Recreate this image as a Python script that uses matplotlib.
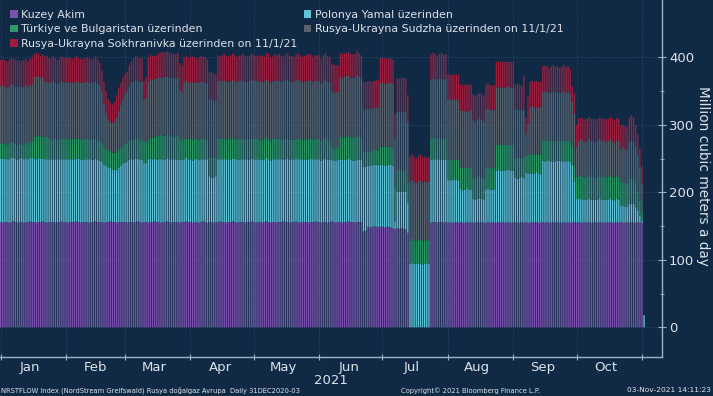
import numpy as np
import pandas as pd
import matplotlib
matplotlib.use("Agg")
import matplotlib.pyplot as plt
import matplotlib.dates as mdates

# daily values, Million cubic meters a day, 01JAN2021 - 02NOV2021
dates = pd.date_range("2021-01-01", "2021-11-02", freq="D")

kuzey_akim = (
    # Jan
    [156,155,156,156,155,156,157,156,155,156, 156,155,156,156,157,156,156,155,156,156,
     157,156,155,156,156,156,155,156,156,157, 156]
    # Feb
    + [156,155,156,156,156,157,156,155,156,156, 156,155,156,156,157,156,156,156,155,156,
       156,157,156,156,155,156,156,156]
    # Mar
    + [156,155,156,156,155,156,157,156,155,156, 156,155,156,156,157,156,156,155,156,156,
       157,156,155,156,156,156,155,156,156,157, 156]
    # Apr
    + [156,155,156,156,155,156,157,156,155,156, 156,155,156,156,157,156,156,155,156,156,
       157,156,155,156,156,156,155,156,156,157]
    # May
    + [156,155,156,156,155,156,157,156,155,156, 156,155,156,156,157,156,156,155,156,156,
       157,156,155,156,156,156,155,156,156,157, 156]
    # Jun
    + [156,155,156,156,155,156,157,156,155,156, 156,155,156,156,157,156,156,155,156,156,
       156, 142,143, 149,148,149,150,149,148,149]
    # Jul
    + [149,148,149,149,148,147, 145, 147,146,147,146,145, 140,
       0,0,0,0,0,0,0,0,0,0, 155,156,156,155,156,156,155,156]
    # Aug
    + [155,156,155,155,156,155,156,155,155,156, 155,156,155,155,156,155,156,155,155,156,
       155,156,155,155,156,155,156,155,155,156, 155]
    # Sep
    + [155,156,155,155,156,155,156,155,155,156, 155,156,155,155,156,155,156,155,155,156,
       155,156,155,155,156,155,156,155,155,156]
    # Oct
    + [155,156,155,155,156,155,156,155,155,156, 155,156,155,155,156,155,156,155,155,156,
       155,156,155,155,156,155,156,155,155,156, 155]
    # Nov
    + [155, 0]
)

polonya_yamal = (
    [94,95,94,93,94,95,94,94,93,94, 95,94,94,93,94,95,94,94,95,94,
     93,93,94,93,92,93,94,93,93,92, 93]
    + [93,94,93,92,93,93,94,93,92,93,93,94,93,92,93,92,
       91,89,86,83,81,79,78,77,78,80,83,86]
    + [88,90,92,93, 93,94,93,92,93, 87,88,
       93,94,93,93,92,93,94,93,92,93,93,94,93,92,93, 93,92, 93,94,93]
    + [93,92,93,94,93,93,92,93,94, 68,66,67,68,
       93,92,93,94,93,93,92,93,94,93,92,93,93,94,93,92,93]
    + [93,94,93,92,93,93,94,93,92,93, 93,94,93,93,92,93,94,93,93,92,
       93,93,94,93,92,93,93,94,93,92, 93]
    + [93,92,93,94,93,92, 92,91,92,92, 92,93,92,92,93,92,91,92,93,92,92,
       96,95, 90,91,90,91,92,92,92]
    + [92,92,91,92,93,92, 12, 54,55,54,55,56, 44,
       94,95,94,94,95,94,93,94,95,94, 93,92,93,94,93,92,93,93]
    + [63,62,63,64,63,62, 49,48,49,50,49,48, 35,34,35,36,35,34, 49,50,49,48,49,
       77,78,77,76,77,78,77,77]
    + [77, 66,65,66,67,66, 73,73, 73,72,73,74,73,72,
       91,90,91,92,91,90,91,91,92,91,90,91,91,90, 85, 60]
    + [35, 34,35,34,33,34,35,34,34,33,34,35,34,34,33,34,35,34,33,34,34,
       24,25,24,23, 28,27,28, 23,17,10]
    + [3, 18]
)

turkiye_bulgaristan = (
    [22,23,22,21,22,23,24,22,23,22,21,22,23,22,24,25,
     33,34,33,32,33,34,33,32, 30,31,30,29,30,31,30]
    + [30,29,30,31,30,30,29,30,31,30,30,29,30,31,30,29,
       29,27,26,25,25,25,25,26,26,27,27,27]
    + [28,29,29,29, 30,31,30,29,30, 32,31,
       30,31,32,33,34,35,36,35,36,35,36,35,34,35,36, 30,31, 30,29,30]
    + [30,31,30,29,30,30,31,30,29, 29,30,29,28,
       30,31,30,29,30,30,31,30,29,30,31,30,30,29,30,31,30]
    + [30,31,30,29,30,30,31,30,29,30, 31,30,30,29,30,31,30,30,29,30,
       30,31,30,29,30,30,31,30,29,30, 30]
    + [30,29,30,31,30,29, 18,17,18,19, 34,33,34,35,34,33,34,34,35,34,33,
       22,23, 22,21,22,23,22,22, 27]
    + [27,28,27,26,27,28, 52, 32,33,32,31,32, 30,
       35,36,35,34,35,36,35,35,34,35, 32,33,32,31,32,33,32,32]
    + [30,31,30,29,30,31, 32,33,32,31,32,33, 32,31,32,33,32,31, 32,33,32,31,32,
       38,37,38,39,38,37,38,38]
    + [38, 30,31,30,29,30, 27,27, 28,29,28,27,28,29,
       30,31,30,29,30,31,30,30,29,30,31,30,30,29, 28, 25]
    + [33, 34,35,34,33,34,35,34,34,33,34,35,34,34,33,34,35,34,33,34,34,
       35,36,35,34, 37,38,37, 34,28,23]
    + [12, 0]
)

ukrayna_sudzha = (
    [85,86,85,84,85,86,84,85,86,85,84,85,86,85,84,85,
     88,89,88,87,88, 81,82,81, 84,85,84,83,84,85,84]
    + [84,85,84,83,84,85,84,84,83,84,85,84,83,84,85,84,
       82,76,64,54,46,43,44,46,52,57,64,69]
    + [73,75,80,84, 86,85,86,87,86, 62,65,
       86,87,86,85,86,87,85,86,87,86,85,86,87,86,85, 73,69, 84,85,84]
    + [84,85,84,83,84,85,84,84,83, 85,86,85,84,
       86,85,86,87,86,85,86,87,86,85,86,86,87,86,85,86,87]
    + [86,85,86,87,86,85,86,87,86,85, 86,86,87,86,85,86,87,86,86,85,
       86,87,86,85,86,86,87,86,85,86, 86]
    + [86,85,86,87,86,85, 83,84,83,82, 89,88,89,90,89,88,89,89,90,89,88,
       63,62, 63,64,63,62,63,64, 94]
    + [94,93,94,95,94,93, 71, 87,86,87,88,87, 90,
       87,88,87,86,87,88,87,87,86,87, 87,88,87,86,87,88,87,87]
    + [89,88,89,90,89,88, 84,85,84,83,84,85, 85,84,85,86,85,84, 86,85,86,87,86,
       85,86,85,84,85,86,85,85]
    + [85, 71,72,71,70,71, 30,45, 70,71,70,69,70,71,
       72,73,72,71,72,73,72,72,71,72,73,72,72,71, 67, 75]
    + [45, 53,54,53,52,53,54,53,53,52,53,54,53,53,52,53,54,53,52,53,53,
       50,51,50,49, 55,56,55, 56,55,50]
    + [44, 0]
)

ukrayna_sokhranivka = (
    [39,38,39,40,39,38,39,40,39,38,39,40,39,38,39,39,
     34,35,34,33,34, 37,38,37, 36,37,36,35,36,37,36]
    + [36,37,36,35,36,37,36,36,35,36,37,36,35,36,37,36,
       34,32,33,32,30,29,27,29,33,35,32,32]
    + [31,30,31,32, 35,36,35,34,35, 28,31,
       35,36,35,34,35,36,37,38,37,38,37,36,35,36,37, 40,40, 37,38,37]
    + [37,38,37,36,37,38,37,37,36, 40,41,40,39,
       38,37,38,39,38,37,38,39,38,37,38,38,39,38,37,38,39]
    + [38,37,38,39,38,37,38,39,38,37, 38,38,39,38,37,38,39,38,38,37,
       38,39,38,37,38,38,39,38,37,38, 38]
    + [38,37,38,39,38,37, 40,41,40,39, 35,36,35,34,35,36,35,35,36,35,34,
       40,41, 40,41,40,39,40,41, 37]
    + [37,38,37,36,37,36, 37, 49,48,49,50,49, 40,
       37,38,37,36,37,38,37,37,36,37, 37,38,37,36,37,38,37,37]
    + [37,38,37,36,37,38, 39,38,39,40,39,38, 38,39,38,37,38,39, 37,38,37,36,37,
       38,37,38,39,38,37,38,38]
    + [38, 37,38,37,36,50, 25,42, 38,37,38,39,38,37,
       38,39,38,37,38,39,38,38,37,38,39,38,38,37, 22, 30]
    + [32, 33,32,33,34,33,32,33,33,34,33,32,33,33,34,33,32,33,34,33,33,
       34,33,34,35, 36,37,36, 32,30,27]
    + [24, 0]
)

series = [
    ("Kuzey Akim", kuzey_akim, "#7a52ad"),
    ("Polonya Yamal üzerinden", polonya_yamal, "#5fc6da"),
    ("Türkiye ve Bulgaristan üzerinden", turkiye_bulgaristan, "#2e9a68"),
    ("Rusya-Ukrayna Sudzha üzerinden on 11/1/21", ukrayna_sudzha, "#58636e"),
    ("Rusya-Ukrayna Sokhranivka üzerinden on 11/1/21", ukrayna_sokhranivka, "#9b1f3e"),
]

bg = "#102a46"
txt = "#dce3ea"
grid_c = "#34506c"

fig = plt.figure(figsize=(7.13, 3.96), dpi=100, facecolor=bg)
ax = fig.add_axes([0, 0.0985, 0.9285, 0.9015], facecolor=bg)

bottom = np.zeros(len(dates))
handles = {}
for name, vals, col in series:
    vals = np.array(vals, dtype=float)
    b = ax.bar(dates, vals, bottom=bottom, width=0.64, color=col, linewidth=0, snap=False)
    handles[name] = b
    bottom += vals

ax.set_xlim(pd.Timestamp("2021-01-01") - pd.Timedelta(hours=7),
            pd.Timestamp("2021-01-01") + pd.Timedelta(days=313.5))
ax.set_ylim(-44, 485)

# axes / ticks
for s in ["top", "left"]:
    ax.spines[s].set_visible(False)
for s in ["bottom", "right"]:
    ax.spines[s].set_color("#9fb3c6")
    ax.spines[s].set_linewidth(1.0)

ax.yaxis.tick_right()
ax.set_yticks([0, 100, 200, 300, 400])
ax.set_yticks([50, 150, 250, 350], minor=True)
ax.tick_params(axis="y", which="major", direction="inout", length=6, colors="#9fb3c6",
               labelcolor=txt, labelsize=9.5, pad=2)
ax.tick_params(axis="y", which="minor", direction="inout", length=3, colors="#9fb3c6")

ax.xaxis.set_major_locator(mdates.MonthLocator())
ax.xaxis.set_major_formatter(plt.NullFormatter())
ax.xaxis.set_minor_locator(mdates.MonthLocator(bymonthday=15))
ax.xaxis.set_minor_formatter(mdates.DateFormatter("%b"))
ax.tick_params(axis="x", which="major", direction="inout", length=5, colors="#9fb3c6")
ax.tick_params(axis="x", which="minor", length=0, labelcolor=txt, labelsize=9.5, pad=3)

ax.grid(True, axis="y", color=grid_c, linewidth=0.6, linestyle=":")
ax.grid(True, axis="x", which="major", color=grid_c, linewidth=0.6, linestyle=":")
ax.set_axisbelow(True)

# legend, column-wise order
order = ["Kuzey Akim", "Türkiye ve Bulgaristan üzerinden",
         "Rusya-Ukrayna Sokhranivka üzerinden on 11/1/21",
         "Polonya Yamal üzerinden", "Rusya-Ukrayna Sudzha üzerinden on 11/1/21"]
leg = ax.legend([handles[n] for n in order], order, ncol=2, loc="upper left",
                bbox_to_anchor=(0.0, 1.0), frameon=False, fontsize=7.9,
                handlelength=0.7, handleheight=0.7, handletextpad=0.3,
                labelspacing=0.4, columnspacing=0.6, borderaxespad=0.5)
for t in leg.get_texts():
    t.set_color(txt)

fig.text(0.986, 0.555, "Million cubic meters a day", rotation=270, color=txt,
         fontsize=9.8, ha="center", va="center")
fig.text(331 / 713, 1 - 380 / 396, "2021", color=txt, fontsize=9.5, ha="center", va="center")

fig.text(0.002, 0.014, "NRSTFLOW Index (NordStream Greifswald) Rusya doğalgaz Avrupa  Daily 31DEC2020-03",
         color=txt, fontsize=4.9, ha="left", va="center")
fig.text(471 / 713, 0.014, "Copyright© 2021 Bloomberg Finance L.P.", color=txt,
         fontsize=4.9, ha="center", va="center")
fig.text(0.997, 0.014, "03-Nov-2021 14:11:23", color=txt, fontsize=5.4, ha="right", va="center")

fig.savefig("out.png", dpi=100, facecolor=bg)
